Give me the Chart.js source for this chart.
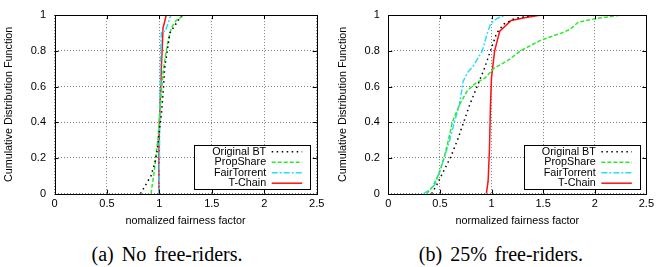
<!DOCTYPE html>
<html>
<head>
<meta charset="utf-8">
<script src="https://cdn.jsdelivr.net/npm/chart.js@4.4.1/dist/chart.umd.min.js"></script>
<style>
  body { margin: 0; background: #fff; width: 658px; height: 267px; position: relative; overflow: hidden; }
  canvas { position: absolute; top: 0; }
  .caption {
    position: absolute; top: 244px; line-height: 20px;
    font-family: 'Liberation Serif', 'Times New Roman', serif; font-size: 20px;
    white-space: nowrap; transform: translateX(-50%); word-spacing: 3px; color: #000;
  }
</style>
</head>
<body>
<canvas id="chart-a" width="330" height="232" style="left:0"></canvas>
<canvas id="chart-b" width="328" height="232" style="left:330px"></canvas>
<div class="caption" style="left:167px">(a) No free-riders.</div>
<div class="caption" style="left:501px">(b) 25% free-riders.</div>
<script>
const xTicks = [0, 0.5, 1, 1.5, 2, 2.5];
const xTickLabels = ['0', '0.5', '1', '1.5', '2', '2.5'];
const yTicks = [0, 0.2, 0.4, 0.6, 0.8, 1];
const yTickLabels = ['0', '0.2', '0.4', '0.6', '0.8', '1'];
const seriesNames = ['Original BT', 'PropShare', 'FairTorrent', 'T-Chain'];

// (a) no free-riders: [fairness factor, cdf]
const aOriginalBT = [[0.82, 0], [0.87, 0.05], [0.92, 0.1], [0.96, 0.18], [0.98, 0.25], [1.0, 0.35], [1.02, 0.45], [1.04, 0.6], [1.05, 0.7], [1.07, 0.78], [1.085, 0.84], [1.1, 0.9], [1.18, 0.97], [1.21, 1]];
const aPropShare = [[0.92, 0], [0.945, 0.1], [0.97, 0.22], [0.99, 0.33], [1.01, 0.5], [1.035, 0.68], [1.06, 0.78], [1.085, 0.86], [1.115, 0.93], [1.16, 0.97], [1.235, 1]];
const aFairTorrent = [[0.995, 0], [1.0, 0.2], [1.005, 0.5], [1.01, 0.7], [1.015, 0.85], [1.02, 0.91], [1.057, 0.91], [1.08, 0.95], [1.11, 1]];
const aTChain = [[0.99, 0], [0.995, 0.2], [1.0, 0.4], [1.01, 0.55], [1.02, 0.72], [1.026, 0.8], [1.035, 0.93], [1.045, 0.95], [1.065, 1]];

// (b) 25% free-riders
const bOriginalBT = [[0.42, 0], [0.47, 0.05], [0.53, 0.12], [0.6, 0.2], [0.67, 0.3], [0.73, 0.4], [0.79, 0.5], [0.86, 0.6], [0.93, 0.7], [0.99, 0.8], [1.05, 0.9], [1.12, 0.95], [1.22, 0.98], [1.4, 1]];
const bPropShare = [[0.37, 0], [0.43, 0.04], [0.49, 0.11], [0.54, 0.2], [0.59, 0.32], [0.62, 0.4], [0.69, 0.5], [0.77, 0.58], [0.85, 0.62], [0.94, 0.65], [1.02, 0.7], [1.17, 0.75], [1.28, 0.8], [1.48, 0.86], [1.68, 0.9], [1.76, 0.92], [1.84, 0.96], [1.92, 0.97], [2.01, 0.98], [2.25, 1]];
const bFairTorrent = [[0.34, 0], [0.4, 0.02], [0.45, 0.05], [0.51, 0.145], [0.59, 0.29], [0.64, 0.4], [0.69, 0.5], [0.725, 0.63], [0.77, 0.68], [0.83, 0.72], [0.91, 0.8], [0.96, 0.9], [0.99, 0.95], [1.05, 0.98], [1.13, 1]];
const bTChain = [[0.95, 0], [0.967, 0.07], [0.98, 0.25], [0.99, 0.5], [1.0, 0.65], [1.03, 0.8], [1.08, 0.91], [1.19, 0.97], [1.32, 0.985], [1.48, 1], [1.6, 1]];

const lineStyles = [
  { color: '#000000', dash: [1.5, 3.5] },
  { color: '#2ee82e', dash: [4, 2] },
  { color: '#2adcff', dash: [6, 2, 2, 2] },
  { color: '#ff1010', dash: [] },
];

const FONT = "'Liberation Sans', Arial, sans-serif";

const framePlugin = {
  id: 'frame',
  afterDatasetsDraw(chart) {
    const { ctx, chartArea: a, scales } = chart;
    ctx.save();
    ctx.strokeStyle = '#000';
    ctx.lineWidth = 1;
    ctx.setLineDash([]);
    ctx.beginPath();
    scales.x.ticks.forEach((t) => {
      const px = Math.round(scales.x.getPixelForValue(t.value)) + 0.5;
      ctx.moveTo(px, a.bottom); ctx.lineTo(px, a.bottom - 4);
      ctx.moveTo(px, a.top); ctx.lineTo(px, a.top + 4);
    });
    scales.y.ticks.forEach((t) => {
      const py = Math.round(scales.y.getPixelForValue(t.value)) + 0.5;
      ctx.moveTo(a.left, py); ctx.lineTo(a.left + 4, py);
      ctx.moveTo(a.right, py); ctx.lineTo(a.right - 4, py);
    });
    ctx.stroke();
    ctx.strokeRect(Math.round(a.left) + 0.5, Math.round(a.top) + 0.5,
      Math.round(a.right - a.left), Math.round(a.bottom - a.top));
    ctx.restore();
  },
};

const legendPlugin = {
  id: 'gnuLegend',
  afterDraw(chart) {
    const { ctx, chartArea: a } = chart;
    const w = 116, h = 44;
    const right = a.right - 6.5, bottom = a.bottom - 4.7;
    const left = right - w, top = bottom - h;
    ctx.save();
    ctx.fillStyle = '#fff';
    ctx.fillRect(left, top, w, h);
    ctx.strokeStyle = '#000';
    ctx.lineWidth = 1;
    ctx.setLineDash([]);
    ctx.strokeRect(Math.round(left) + 0.5, Math.round(top) + 0.5, w, h);
    ctx.font = '10.8px ' + FONT;
    ctx.textAlign = 'right';
    ctx.textBaseline = 'middle';
    chart.data.datasets.forEach((ds, i) => {
      const y = top + 6.7 + i * 10.5;
      ctx.fillStyle = '#000';
      ctx.fillText(ds.label, right - 44, y);
      ctx.strokeStyle = ds.borderColor;
      ctx.lineWidth = 1.5;
      ctx.setLineDash(ds.borderDash);
      ctx.beginPath();
      ctx.moveTo(right - 38.5, y);
      ctx.lineTo(right - 8, y);
      ctx.stroke();
    });
    ctx.restore();
  },
};

function buildChart(id, seriesList, opts) {
  const datasets = seriesList.map((pts, i) => ({
    label: seriesNames[i],
    data: pts.map(([x, y]) => ({ x, y })),
    showLine: true,
    borderColor: lineStyles[i].color,
    borderDash: lineStyles[i].dash,
    borderWidth: 1.5,
    pointRadius: 0,
    tension: 0,
  }));

  return new Chart(document.getElementById(id), {
    type: 'scatter',
    data: { datasets },
    plugins: [framePlugin, legendPlugin],
    options: {
      responsive: false,
      animation: false,
      layout: { padding: { left: 0, top: 7.3, right: opts.padRight, bottom: 0 } },
      plugins: { legend: { display: false }, tooltip: { enabled: false } },
      scales: {
        x: {
          type: 'linear',
          min: 0,
          max: 2.5,
          afterBuildTicks: (s) => { s.ticks = xTicks.map((v) => ({ value: v })); },
          afterFit: (s) => { s.height = 38.3; },
          ticks: {
            color: '#000',
            padding: 4,
            font: { family: FONT, size: 11 },
            callback: (v, i) => xTickLabels[i],
          },
          grid: { color: '#808080', drawTicks: false, tickLength: 0 },
          border: { display: false, dash: [1, 2] },
          title: {
            display: true,
            text: opts.xTitle,
            color: '#000',
            font: { family: FONT, size: 10.8 },
            padding: { top: 0, bottom: 4.5 },
          },
        },
        y: {
          type: 'linear',
          min: 0,
          max: 1,
          afterBuildTicks: (s) => { s.ticks = yTicks.map((v) => ({ value: v })); },
          afterFit: (s) => { s.width = opts.axisWidth; },
          ticks: {
            color: '#000',
            padding: 8.5,
            font: { family: FONT, size: 11 },
            callback: (v, i) => yTickLabels[i],
          },
          grid: { color: '#808080', drawTicks: false, tickLength: 0 },
          border: { display: false, dash: [1, 2] },
          title: {
            display: true,
            text: 'Cumulative Distribution Function',
            color: '#000',
            font: { family: FONT, size: 10.8 },
            padding: { top: opts.yTitlePad, bottom: 0 },
          },
        },
      },
    },
  });
}

buildChart('chart-a', [aOriginalBT, aPropShare, aFairTorrent, aTChain], {
  padRight: 13.3, axisWidth: 54.5, yTitlePad: 3, xTitle: 'nomalized fairness factor',
});
buildChart('chart-b', [bOriginalBT, bPropShare, bFairTorrent, bTChain], {
  padRight: 8.7, axisWidth: 58.3, yTitlePad: 6.5, xTitle: 'normalized fairness factor',
});
</script>
</body>
</html>
